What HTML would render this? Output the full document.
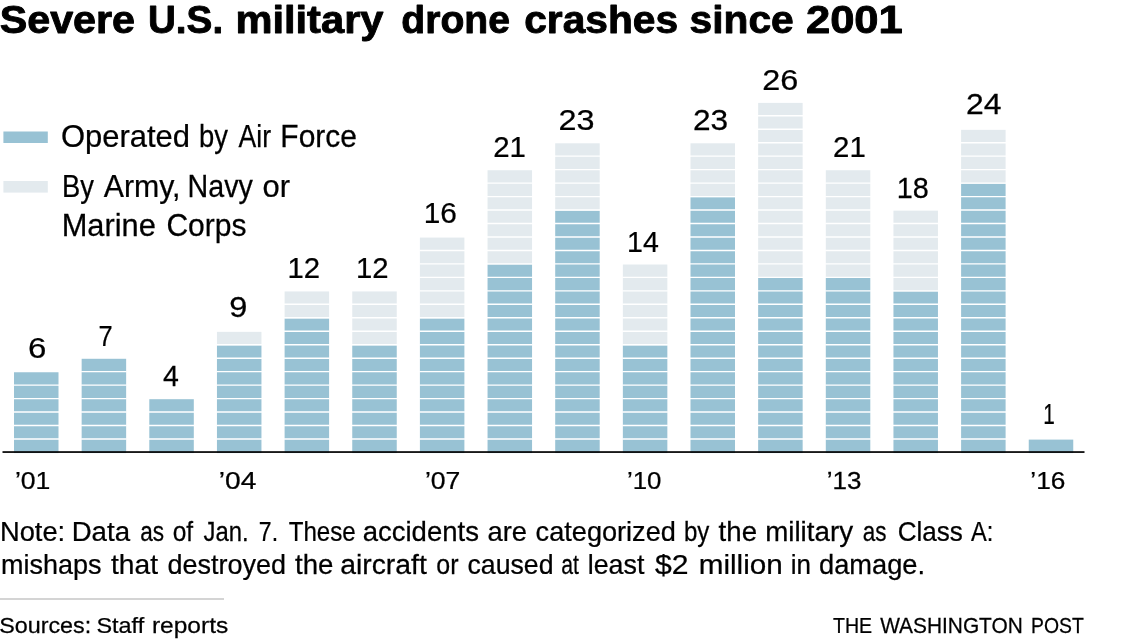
<!DOCTYPE html>
<html lang="en"><head><meta charset="utf-8"><title>Severe U.S. military drone crashes since 2001</title>
<style>html,body{margin:0;padding:0;background:#fff}body{width:1121px;height:643px;overflow:hidden}svg{display:block;filter:blur(.45px)}text{font-family:"Liberation Sans", sans-serif;fill:#000;stroke:#000;stroke-width:.25px}.t{font-weight:bold;fill:#000;stroke:#000;stroke-width:.9px;stroke-linejoin:round}</style></head><body>
<svg width="1121" height="643" viewBox="0 0 1121 643">
<rect width="1121" height="643" fill="#fff"/>
<text class="t" transform="translate(-0.35 33.20) scale(1.0453 1)" font-size="39.5">Severe</text>
<text class="t" transform="translate(147.94 33.20) scale(0.9788 1)" font-size="39.5">U.S.</text>
<text class="t" transform="translate(235.39 33.20) scale(1.0546 1)" font-size="39.5">military</text>
<text class="t" transform="translate(401.31 33.20) scale(0.9902 1)" font-size="39.5">drone</text>
<text class="t" transform="translate(524.17 33.20) scale(1.0314 1)" font-size="39.5">crashes</text>
<text class="t" transform="translate(689.57 33.20) scale(1.0319 1)" font-size="39.5">since</text>
<text class="t" transform="translate(805.90 33.20) scale(1.1036 1)" font-size="39.5">2001</text>
<text transform="translate(60.98 147.20) scale(1.0153 1)" font-size="30.5">Operated</text>
<text transform="translate(199.00 147.20) scale(0.8979 1)" font-size="30.5">by</text>
<text transform="translate(238.60 147.20) scale(0.8729 1)" font-size="30.5">Air</text>
<text transform="translate(280.33 147.20) scale(0.9827 1)" font-size="30.5">Force</text>
<text transform="translate(61.91 197.00) scale(0.8968 1)" font-size="30.5">By</text>
<text transform="translate(103.70 197.00) scale(0.9934 1)" font-size="30.5">Army,</text>
<text transform="translate(187.52 197.00) scale(0.9393 1)" font-size="30.5">Navy</text>
<text transform="translate(262.49 197.00) scale(1.0130 1)" font-size="30.5">or</text>
<text transform="translate(61.68 236.00) scale(1.0104 1)" font-size="30.5">Marine</text>
<text transform="translate(166.42 236.00) scale(0.9849 1)" font-size="30.5">Corps</text>
<text transform="translate(-0.02 540.50) scale(1.0109 1)" font-size="27">Note:</text>
<text transform="translate(71.65 540.50) scale(1.0247 1)" font-size="27">Data</text>
<text transform="translate(140.16 540.50) scale(0.8365 1)" font-size="27">as</text>
<text transform="translate(172.69 540.50) scale(0.9084 1)" font-size="27">of</text>
<text transform="translate(203.50 540.50) scale(0.8843 1)" font-size="27">Jan.</text>
<text transform="translate(258.85 540.50) scale(0.8543 1)" font-size="27">7.</text>
<text transform="translate(288.70 540.50) scale(0.8943 1)" font-size="27">These</text>
<text transform="translate(362.68 540.50) scale(1.0199 1)" font-size="27">accidents</text>
<text transform="translate(487.49 540.50) scale(1.0133 1)" font-size="27">are</text>
<text transform="translate(535.59 540.50) scale(1.0053 1)" font-size="27">categorized</text>
<text transform="translate(683.91 540.50) scale(0.8923 1)" font-size="27">by</text>
<text transform="translate(718.60 540.50) scale(1.0242 1)" font-size="27">the</text>
<text transform="translate(765.17 540.50) scale(1.0283 1)" font-size="27">military</text>
<text transform="translate(862.77 540.50) scale(0.8328 1)" font-size="27">as</text>
<text transform="translate(897.64 540.50) scale(0.9650 1)" font-size="27">Class</text>
<text transform="translate(971.00 540.50) scale(0.8747 1)" font-size="27">A:</text>
<text transform="translate(1.00 574.30) scale(0.9996 1)" font-size="27">mishaps</text>
<text transform="translate(111.00 574.30) scale(1.0454 1)" font-size="27">that</text>
<text transform="translate(167.50 574.30) scale(0.9995 1)" font-size="27">destroyed</text>
<text transform="translate(295.00 574.30) scale(1.0242 1)" font-size="27">the</text>
<text transform="translate(340.15 574.30) scale(1.0498 1)" font-size="27">aircraft</text>
<text transform="translate(436.37 574.30) scale(0.9254 1)" font-size="27">or</text>
<text transform="translate(467.51 574.30) scale(0.9877 1)" font-size="27">caused</text>
<text transform="translate(561.21 574.30) scale(0.7858 1)" font-size="27">at</text>
<text transform="translate(587.71 574.30) scale(0.9941 1)" font-size="27">least</text>
<text transform="translate(654.90 574.30) scale(1.1166 1)" font-size="27">$2</text>
<text transform="translate(698.70 574.30) scale(1.0993 1)" font-size="27">million</text>
<text transform="translate(790.74 574.30) scale(0.9632 1)" font-size="27">in</text>
<text transform="translate(818.99 574.30) scale(1.0100 1)" font-size="27">damage.</text>
<text transform="translate(-0.84 633.00) scale(1.0377 1)" font-size="22.5">Sources:</text>
<text transform="translate(96.46 633.00) scale(1.0413 1)" font-size="22.5">Staff</text>
<text transform="translate(151.91 633.00) scale(1.0905 1)" font-size="22.5">reports</text>
<text transform="translate(833.00 632.80) scale(0.8909 1)" font-size="22">THE</text>
<text transform="translate(880.20 632.80) scale(0.9488 1)" font-size="22">WASHINGTON</text>
<text transform="translate(1031.12 632.80) scale(0.8809 1)" font-size="22">POST</text>
<text transform="translate(14.89 488.80) scale(1.1082 1)" font-size="24">’01</text>
<text transform="translate(218.83 488.80) scale(1.1734 1)" font-size="24">’04</text>
<text transform="translate(424.89 488.80) scale(1.1082 1)" font-size="24">’07</text>
<text transform="translate(626.92 488.80) scale(1.0756 1)" font-size="24">’10</text>
<text transform="translate(826.72 488.80) scale(1.0821 1)" font-size="24">’13</text>
<text transform="translate(1030.30 488.80) scale(1.0952 1)" font-size="24">’16</text>
<text transform="translate(27.90 358.10) scale(1.1000 1)" font-size="30">6</text>
<text transform="translate(98.45 346.40) scale(0.8467 1)" font-size="30">7</text>
<text transform="translate(163.00 386.30) scale(0.9500 1)" font-size="30">4</text>
<text transform="translate(229.21 317.10) scale(1.0867 1)" font-size="30">9</text>
<text transform="translate(287.54 277.90) scale(0.9777 1)" font-size="30">12</text>
<text transform="translate(356.04 277.90) scale(0.9777 1)" font-size="30">12</text>
<text transform="translate(423.71 223.40) scale(0.9940 1)" font-size="30">16</text>
<text transform="translate(493.22 156.90) scale(0.9816 1)" font-size="30">21</text>
<text transform="translate(558.52 129.50) scale(1.0794 1)" font-size="30">23</text>
<text transform="translate(627.10 251.80) scale(0.9516 1)" font-size="30">14</text>
<text transform="translate(692.95 129.60) scale(1.0541 1)" font-size="30">23</text>
<text transform="translate(762.32 89.50) scale(1.0794 1)" font-size="30">26</text>
<text transform="translate(833.02 156.70) scale(0.9816 1)" font-size="30">21</text>
<text transform="translate(896.78 197.50) scale(0.9614 1)" font-size="30">18</text>
<text transform="translate(965.94 114.30) scale(1.0636 1)" font-size="30">24</text>
<text transform="translate(1043.21 424.00) scale(0.6929 1)" font-size="30">1</text>
<rect x="3.4" y="131.5" width="44.4" height="11.5" fill="#98c2d4"/>
<rect x="3.4" y="181" width="44.4" height="11.6" fill="#e3eaee"/>
<rect x="14.00" y="372.26" width="44.5" height="80.81" fill="#98c2d4"/>
<path d="M13.50 439.00h45.5M13.50 425.53h45.5M13.50 412.07h45.5M13.50 398.60h45.5M13.50 385.13h45.5" stroke="#fff" stroke-width="1.4" fill="none"/>
<rect x="81.65" y="358.79" width="44.5" height="94.28" fill="#98c2d4"/>
<path d="M81.15 439.00h45.5M81.15 425.53h45.5M81.15 412.07h45.5M81.15 398.60h45.5M81.15 385.13h45.5M81.15 371.66h45.5" stroke="#fff" stroke-width="1.4" fill="none"/>
<rect x="149.30" y="399.20" width="44.5" height="53.87" fill="#98c2d4"/>
<path d="M148.80 439.00h45.5M148.80 425.53h45.5M148.80 412.07h45.5" stroke="#fff" stroke-width="1.4" fill="none"/>
<rect x="216.95" y="331.86" width="44.5" height="13.47" fill="#e3eaee"/>
<rect x="216.95" y="345.33" width="44.5" height="107.74" fill="#98c2d4"/>
<path d="M216.45 439.00h45.5M216.45 425.53h45.5M216.45 412.07h45.5M216.45 398.60h45.5M216.45 385.13h45.5M216.45 371.66h45.5M216.45 358.19h45.5M216.45 344.73h45.5" stroke="#fff" stroke-width="1.4" fill="none"/>
<rect x="284.60" y="291.45" width="44.5" height="26.94" fill="#e3eaee"/>
<rect x="284.60" y="318.39" width="44.5" height="134.68" fill="#98c2d4"/>
<path d="M284.10 439.00h45.5M284.10 425.53h45.5M284.10 412.07h45.5M284.10 398.60h45.5M284.10 385.13h45.5M284.10 371.66h45.5M284.10 358.19h45.5M284.10 344.73h45.5M284.10 331.26h45.5M284.10 317.79h45.5M284.10 304.32h45.5" stroke="#fff" stroke-width="1.4" fill="none"/>
<rect x="352.25" y="291.45" width="44.5" height="53.87" fill="#e3eaee"/>
<rect x="352.25" y="345.33" width="44.5" height="107.74" fill="#98c2d4"/>
<path d="M351.75 439.00h45.5M351.75 425.53h45.5M351.75 412.07h45.5M351.75 398.60h45.5M351.75 385.13h45.5M351.75 371.66h45.5M351.75 358.19h45.5M351.75 344.73h45.5M351.75 331.26h45.5M351.75 317.79h45.5M351.75 304.32h45.5" stroke="#fff" stroke-width="1.4" fill="none"/>
<rect x="419.90" y="237.58" width="44.5" height="80.81" fill="#e3eaee"/>
<rect x="419.90" y="318.39" width="44.5" height="134.68" fill="#98c2d4"/>
<path d="M419.40 439.00h45.5M419.40 425.53h45.5M419.40 412.07h45.5M419.40 398.60h45.5M419.40 385.13h45.5M419.40 371.66h45.5M419.40 358.19h45.5M419.40 344.73h45.5M419.40 331.26h45.5M419.40 317.79h45.5M419.40 304.32h45.5M419.40 290.85h45.5M419.40 277.39h45.5M419.40 263.92h45.5M419.40 250.45h45.5" stroke="#fff" stroke-width="1.4" fill="none"/>
<rect x="487.55" y="170.24" width="44.5" height="94.28" fill="#e3eaee"/>
<rect x="487.55" y="264.52" width="44.5" height="188.55" fill="#98c2d4"/>
<path d="M487.05 439.00h45.5M487.05 425.53h45.5M487.05 412.07h45.5M487.05 398.60h45.5M487.05 385.13h45.5M487.05 371.66h45.5M487.05 358.19h45.5M487.05 344.73h45.5M487.05 331.26h45.5M487.05 317.79h45.5M487.05 304.32h45.5M487.05 290.85h45.5M487.05 277.39h45.5M487.05 263.92h45.5M487.05 250.45h45.5M487.05 236.98h45.5M487.05 223.51h45.5M487.05 210.05h45.5M487.05 196.58h45.5M487.05 183.11h45.5" stroke="#fff" stroke-width="1.4" fill="none"/>
<rect x="555.20" y="143.31" width="44.5" height="67.34" fill="#e3eaee"/>
<rect x="555.20" y="210.65" width="44.5" height="242.42" fill="#98c2d4"/>
<path d="M554.70 439.00h45.5M554.70 425.53h45.5M554.70 412.07h45.5M554.70 398.60h45.5M554.70 385.13h45.5M554.70 371.66h45.5M554.70 358.19h45.5M554.70 344.73h45.5M554.70 331.26h45.5M554.70 317.79h45.5M554.70 304.32h45.5M554.70 290.85h45.5M554.70 277.39h45.5M554.70 263.92h45.5M554.70 250.45h45.5M554.70 236.98h45.5M554.70 223.51h45.5M554.70 210.05h45.5M554.70 196.58h45.5M554.70 183.11h45.5M554.70 169.64h45.5M554.70 156.17h45.5" stroke="#fff" stroke-width="1.4" fill="none"/>
<rect x="622.85" y="264.52" width="44.5" height="80.81" fill="#e3eaee"/>
<rect x="622.85" y="345.33" width="44.5" height="107.74" fill="#98c2d4"/>
<path d="M622.35 439.00h45.5M622.35 425.53h45.5M622.35 412.07h45.5M622.35 398.60h45.5M622.35 385.13h45.5M622.35 371.66h45.5M622.35 358.19h45.5M622.35 344.73h45.5M622.35 331.26h45.5M622.35 317.79h45.5M622.35 304.32h45.5M622.35 290.85h45.5M622.35 277.39h45.5" stroke="#fff" stroke-width="1.4" fill="none"/>
<rect x="690.50" y="143.31" width="44.5" height="53.87" fill="#e3eaee"/>
<rect x="690.50" y="197.18" width="44.5" height="255.89" fill="#98c2d4"/>
<path d="M690.00 439.00h45.5M690.00 425.53h45.5M690.00 412.07h45.5M690.00 398.60h45.5M690.00 385.13h45.5M690.00 371.66h45.5M690.00 358.19h45.5M690.00 344.73h45.5M690.00 331.26h45.5M690.00 317.79h45.5M690.00 304.32h45.5M690.00 290.85h45.5M690.00 277.39h45.5M690.00 263.92h45.5M690.00 250.45h45.5M690.00 236.98h45.5M690.00 223.51h45.5M690.00 210.05h45.5M690.00 196.58h45.5M690.00 183.11h45.5M690.00 169.64h45.5M690.00 156.17h45.5" stroke="#fff" stroke-width="1.4" fill="none"/>
<rect x="758.15" y="102.90" width="44.5" height="175.08" fill="#e3eaee"/>
<rect x="758.15" y="277.99" width="44.5" height="175.08" fill="#98c2d4"/>
<path d="M757.65 439.00h45.5M757.65 425.53h45.5M757.65 412.07h45.5M757.65 398.60h45.5M757.65 385.13h45.5M757.65 371.66h45.5M757.65 358.19h45.5M757.65 344.73h45.5M757.65 331.26h45.5M757.65 317.79h45.5M757.65 304.32h45.5M757.65 290.85h45.5M757.65 277.39h45.5M757.65 263.92h45.5M757.65 250.45h45.5M757.65 236.98h45.5M757.65 223.51h45.5M757.65 210.05h45.5M757.65 196.58h45.5M757.65 183.11h45.5M757.65 169.64h45.5M757.65 156.17h45.5M757.65 142.71h45.5M757.65 129.24h45.5M757.65 115.77h45.5" stroke="#fff" stroke-width="1.4" fill="none"/>
<rect x="825.80" y="170.24" width="44.5" height="107.74" fill="#e3eaee"/>
<rect x="825.80" y="277.99" width="44.5" height="175.08" fill="#98c2d4"/>
<path d="M825.30 439.00h45.5M825.30 425.53h45.5M825.30 412.07h45.5M825.30 398.60h45.5M825.30 385.13h45.5M825.30 371.66h45.5M825.30 358.19h45.5M825.30 344.73h45.5M825.30 331.26h45.5M825.30 317.79h45.5M825.30 304.32h45.5M825.30 290.85h45.5M825.30 277.39h45.5M825.30 263.92h45.5M825.30 250.45h45.5M825.30 236.98h45.5M825.30 223.51h45.5M825.30 210.05h45.5M825.30 196.58h45.5M825.30 183.11h45.5" stroke="#fff" stroke-width="1.4" fill="none"/>
<rect x="893.45" y="210.65" width="44.5" height="80.81" fill="#e3eaee"/>
<rect x="893.45" y="291.45" width="44.5" height="161.62" fill="#98c2d4"/>
<path d="M892.95 439.00h45.5M892.95 425.53h45.5M892.95 412.07h45.5M892.95 398.60h45.5M892.95 385.13h45.5M892.95 371.66h45.5M892.95 358.19h45.5M892.95 344.73h45.5M892.95 331.26h45.5M892.95 317.79h45.5M892.95 304.32h45.5M892.95 290.85h45.5M892.95 277.39h45.5M892.95 263.92h45.5M892.95 250.45h45.5M892.95 236.98h45.5M892.95 223.51h45.5" stroke="#fff" stroke-width="1.4" fill="none"/>
<rect x="961.10" y="129.84" width="44.5" height="53.87" fill="#e3eaee"/>
<rect x="961.10" y="183.71" width="44.5" height="269.36" fill="#98c2d4"/>
<path d="M960.60 439.00h45.5M960.60 425.53h45.5M960.60 412.07h45.5M960.60 398.60h45.5M960.60 385.13h45.5M960.60 371.66h45.5M960.60 358.19h45.5M960.60 344.73h45.5M960.60 331.26h45.5M960.60 317.79h45.5M960.60 304.32h45.5M960.60 290.85h45.5M960.60 277.39h45.5M960.60 263.92h45.5M960.60 250.45h45.5M960.60 236.98h45.5M960.60 223.51h45.5M960.60 210.05h45.5M960.60 196.58h45.5M960.60 183.11h45.5M960.60 169.64h45.5M960.60 156.17h45.5M960.60 142.71h45.5" stroke="#fff" stroke-width="1.4" fill="none"/>
<rect x="1028.75" y="439.60" width="44.5" height="13.47" fill="#98c2d4"/>
<rect x="2.5" y="451.2" width="1082" height="1.7" fill="#000"/>
<rect x="0" y="598.3" width="224" height="1.4" fill="#c2c2c2"/>
</svg></body></html>
